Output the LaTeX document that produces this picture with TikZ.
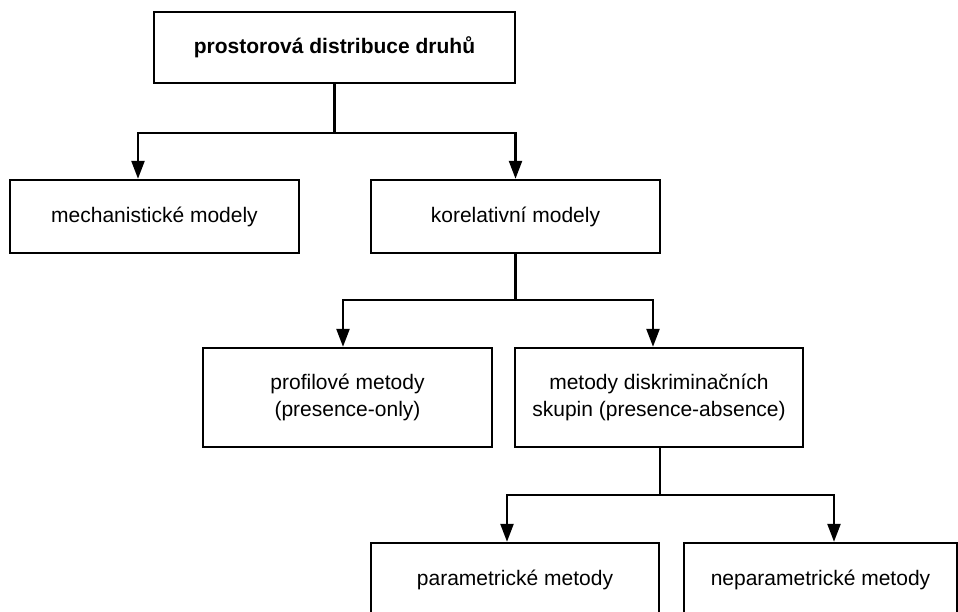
\documentclass[tikz,border=0pt]{standalone}
\usepackage{fontspec}
\setmainfont{Liberation Sans}
\usetikzlibrary{arrows.meta}

\tikzset{
  box/.style={draw=black, line width=2.4pt, rectangle, inner sep=0pt, align=center,
    font=\fontsize{21}{26.5}\selectfont},
  lvlA/.style={box, minimum width=361pt, minimum height=71pt},
  lvlB/.style={box, minimum width=289pt, minimum height=73pt},
  lvlC/.style={box, minimum width=289pt, minimum height=99pt},
  lvlD/.style={box, minimum height=73pt},
  link/.style={draw=black, line width=2.4pt, -{Triangle[length=18pt,width=13pt]}},
}

\begin{document}
\begin{tikzpicture}[x=1pt,y=-1pt]
  \clip (0,0) rectangle (958,611);
  \fill[white] (0,0) rectangle (958,611);

  % boxes
  \node[lvlA, font=\fontsize{21}{26.5}\selectfont\bfseries] (top) at (334.5,47.5) {prostorová distribuce druhů};
  \node[lvlB] (mech) at (154.5,216.5) {mechanistické modely};
  \node[lvlB] (kor) at (515.5,216.5) {korelativní modely};
  \node[lvlC] (prof) at (347.5,397.5) {profilové metody\\(presence-only)};
  \node[lvlC, minimum width=288pt] (disk) at (659,397.5) {metody diskriminačních\\skupin (presence-absence)};
  \node[lvlD, minimum width=288pt] (par) at (515,579.5) {parametrické metody};
  \node[lvlD, minimum width=273pt] (nepar) at (820.5,579.5) {neparametrické metody};

  % connectors
  \draw[link] (top.south) -- ++(0,49) -| ([xshift=-16.5pt]mech.north);
  \draw[link] (top.south) -- ++(0,49) -| (kor.north);
  \draw[link] (kor.south) -- ++(0,46) -| ([xshift=-4.5pt]prof.north);
  \draw[link] (kor.south) -- ++(0,46) -| ([xshift=-6pt]disk.north);
  \draw[link] ([xshift=1pt]disk.south) -- ++(0,47) -| ([xshift=-8pt]par.north);
  \draw[link] ([xshift=1pt]disk.south) -- ++(0,47) -| ([xshift=13.5pt]nepar.north);
\end{tikzpicture}
\end{document}
